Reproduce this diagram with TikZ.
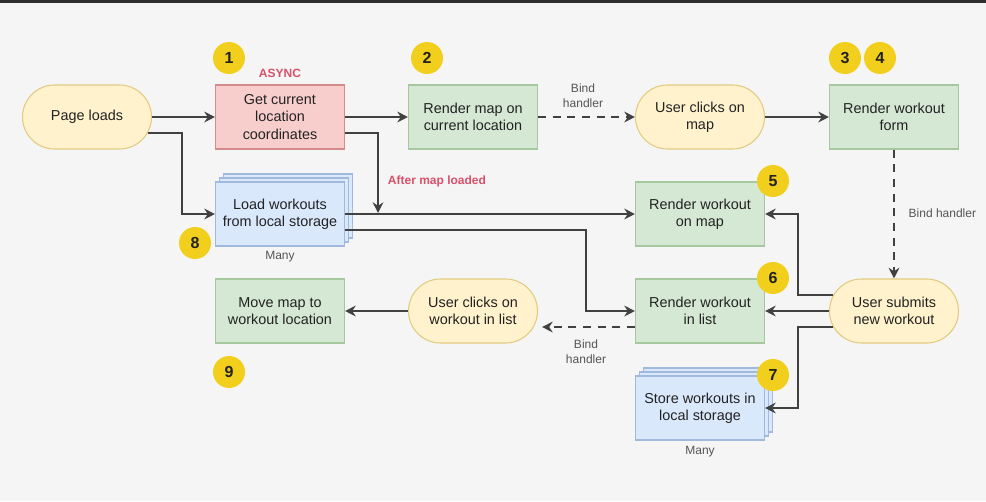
\documentclass[tikz,border=0pt]{standalone}
\usepackage{fontspec}
\setmainfont{Liberation Sans}
\usetikzlibrary{arrows.meta,calc,shadows}
\definecolor{bg}{HTML}{F5F5F5}
\definecolor{edge}{HTML}{2E2E2E}
\definecolor{ink}{HTML}{222222}
\definecolor{note}{HTML}{555555}
\definecolor{alert}{HTML}{D9506A}
\definecolor{wire}{HTML}{414141}
\definecolor{gold}{HTML}{F2CF1D}
\definecolor{ylwfill}{HTML}{FFF2CC}
\definecolor{ylwline}{HTML}{E2CB80}
\definecolor{redfill}{HTML}{F8CECC}
\definecolor{redline}{HTML}{D38C8A}
\definecolor{grnfill}{HTML}{D5E8D4}
\definecolor{grnline}{HTML}{A6C89E}
\definecolor{blufill}{HTML}{DAE8FC}
\definecolor{bluline}{HTML}{A0B9DC}

\begin{document}
\begin{tikzpicture}[x=0.75pt,y=-0.75pt,
  every node/.style={text=ink,align=center,font=\fontsize{10.8}{12.8}\selectfont},
  box/.style={rectangle,line width=0.8pt,minimum width=96.75pt,minimum height=48pt,inner sep=2pt},
  grn/.style={box,fill=grnfill,draw=grnline},
  rd/.style={box,fill=redfill,draw=redline},
  blu/.style={box,fill=blufill,draw=bluline,
    double copy shadow={shadow xshift=3pt,shadow yshift=3pt}},
  evt/.style={box,fill=ylwfill,draw=ylwline,rounded corners=24pt},
  badge/.style={circle,fill=gold,minimum size=24pt,inner sep=0pt,
    font=\bfseries\fontsize{12}{14}\selectfont},
  lbl/.style={text=note,font=\fontsize{9}{11}\selectfont},
  warn/.style={text=alert,font=\bfseries\fontsize{9}{11}\selectfont},
  flow/.style={draw=wire,line width=1.9pt,-{Stealth[length=8pt,width=8pt]}},
  hook/.style={flow,dash pattern=on 6pt off 5pt}]

\useasboundingbox[fill=bg] (0,0) rectangle (986,501);
\fill[edge] (0,0) rectangle (986,2.5);

% ---- top row -------------------------------------------------------------
\node[evt] (pl) at (87,117) {Page loads};
\node[rd]  (gc) at (280,117) {Get current\\location\\coordinates};
\node[grn] (rm) at (473,117) {Render map on\\current location};
\node[evt] (uc) at (700,117) {User clicks on\\map};
\node[grn] (rf) at (894,117) {Render workout\\form};

% ---- middle row ----------------------------------------------------------
\node[blu] (lw) at (280,214) {Load workouts\\from local storage};
\node[grn] (wm) at (700,214) {Render workout\\on map};

% ---- bottom rows ---------------------------------------------------------
\node[grn] (mm) at (280,311) {Move map to\\workout location};
\node[evt] (ul) at (473,311) {User clicks on\\workout in list};
\node[grn] (wl) at (700,311) {Render workout\\in list};
\node[evt] (us) at (894,311) {User submits\\new workout};
\node[blu] (sw) at (700,408) {Store workouts in\\local storage};

% ---- step badges ---------------------------------------------------------
\foreach \n/\x/\y in {1/229/58, 2/427/58, 3/845/58, 4/880/58, 5/773/181,
                      6/773/278, 7/773/375, 8/195/243, 9/229/372} {
  \node[badge] (b\n) at (\x,\y) {\n};
}

% ---- labels --------------------------------------------------------------
\node[warn] (async) at (280,73) {ASYNC};
\node[warn] (after) at (437,181) {After map loaded};
\node[lbl] (bh1) at (583,96) {Bind\\handler};
\node[lbl,anchor=west] (bh2) at (904,213) {Bind handler};
\node[lbl] (bh3) at (586,352) {Bind\\handler};
\node[lbl] (many1) at (280,257) {Many};
\node[lbl] (many2) at (700,452) {Many};

% ---- connectors ----------------------------------------------------------
\draw[flow] (pl.east) -- (gc.west);
\draw[flow] ($(pl.center)+(60.7,16)$) -| ($(lw.west)+(-33,0)$) -- (lw.west);
\draw[flow] (gc.east) -- (rm.west);
\draw[flow] ($(gc.east)+(0,16)$) -| ($(lw.east)+(33,-1)$);
\draw[hook] (rm.east) -- (uc.west);
\draw[flow] (uc.east) -- (rf.west);
\draw[hook] (rf.south) -- (us.north);
\draw[flow] (lw.east) -- (wm.west);
\draw[flow] ($(lw.east)+(0,16)$) -| ($(wl.west)+(-49,0)$) -- (wl.west);
\draw[flow] ($(us.center)+(-60.7,-16)$) -| ($(wm.east)+(33,0)$) -- (wm.east);
\draw[flow] (us.west) -- (wl.east);
\draw[flow] ($(us.center)+(-60.7,16)$) -| ($(sw.east)+(33,0)$) -- (sw.east);
\draw[hook] ($(wl.west)+(0,16)$) -- ($(ul.east)+(4,16)$);
\draw[flow] (ul.west) -- (mm.east);
\end{tikzpicture}
\end{document}
